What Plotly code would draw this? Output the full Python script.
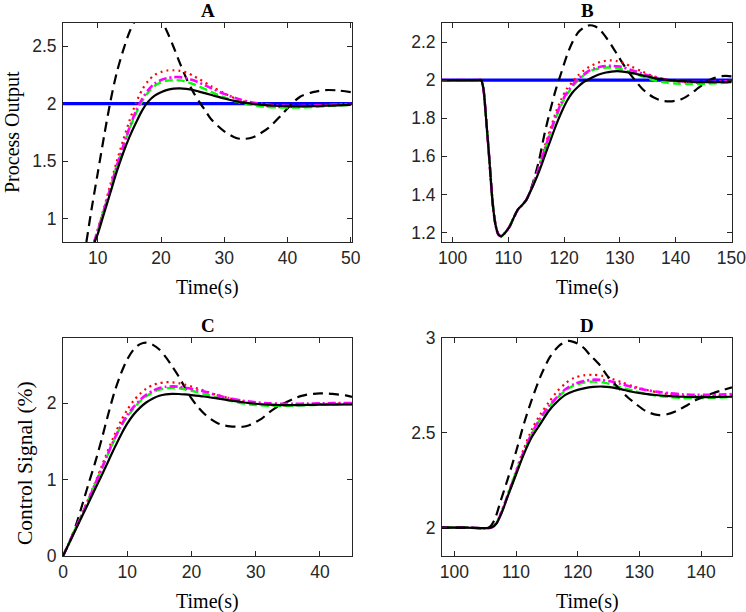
import plotly.graph_objects as go

# ---------------- Panel A : process output, set-point response ----------------
A_SETPOINT = 2.0
A_SPAN = [0, 50.2]
A_T_DASH = [8.2, 9, 10, 11, 12, 13, 14, 15, 16, 17, 18, 19, 20, 21, 22, 23, 24, 25, 26, 27, 28, 30, 32, 33, 34, 35, 37, 39, 40.7, 42, 44, 46, 48, 50]
A_Y_DASH = [0.8, 1.08, 1.4, 1.72, 2.02, 2.27, 2.46, 2.62, 2.73, 2.8, 2.82, 2.8, 2.73, 2.62, 2.49, 2.35, 2.22, 2.11, 2.02, 1.94, 1.86, 1.76, 1.7, 1.695, 1.7, 1.72, 1.79, 1.9, 2.0, 2.06, 2.1, 2.118, 2.115, 2.1]
A_T = [10, 11, 12, 13, 14, 15, 16, 17, 18, 19, 20, 21, 22, 23, 24, 25, 26, 28, 30, 32, 34, 36, 38, 40, 42, 44, 46, 48, 50]
A_T_SOLID = [9.5] + A_T
A_Y_SOLID = [0.8, 0.87, 1.05, 1.23, 1.41, 1.57, 1.71, 1.83, 1.94, 2.02, 2.07, 2.1, 2.12, 2.13, 2.132, 2.128, 2.12, 2.105, 2.075, 2.045, 2.02, 2.003, 1.99, 1.982, 1.978, 1.977, 1.978, 1.982, 1.986, 1.99]
A_T_RED = [9.4] + A_T
A_Y_RED = [0.8, 0.91, 1.1, 1.3, 1.5, 1.68, 1.85, 2.0, 2.12, 2.2, 2.25, 2.275, 2.288, 2.29, 2.285, 2.27, 2.245, 2.215, 2.15, 2.09, 2.04, 2.005, 1.983, 1.972, 1.97, 1.975, 1.98, 1.988, 1.994, 1.998]
A_T_MAG = [9.45] + A_T
A_Y_MAG = [0.8, 0.9, 1.08, 1.27, 1.46, 1.63, 1.79, 1.93, 2.04, 2.12, 2.175, 2.205, 2.222, 2.23, 2.23, 2.222, 2.205, 2.183, 2.133, 2.085, 2.045, 2.015, 1.997, 1.986, 1.981, 1.98, 1.983, 1.988, 1.993, 1.997]
A_T_GREEN = [9.45] + A_T
A_Y_GREEN = [0.8, 0.9, 1.08, 1.27, 1.45, 1.62, 1.78, 1.91, 2.02, 2.1, 2.155, 2.185, 2.2, 2.205, 2.202, 2.19, 2.172, 2.15, 2.1, 2.055, 2.017, 1.992, 1.976, 1.968, 1.966, 1.967, 1.972, 1.978, 1.985, 1.99]

# ---------------- Panel B : process output, disturbance response ----------------
B_SETPOINT = 2.0
B_SPAN = [95, 150.2]
B_T_DIP = [95, 100, 103, 104.6, 105.1, 105.5, 106, 106.6, 107.2, 107.7, 108.2, 108.7, 109.3, 110.2, 111, 111.7, 112.5, 113.2, 113.7]
B_Y_DIP = [2.0, 2.0, 2.0, 2.0, 2.0, 1.96, 1.8, 1.58, 1.35, 1.24, 1.19, 1.18, 1.195, 1.23, 1.28, 1.32, 1.345, 1.37, 1.4]
B_T_REC = [114.5, 115.5, 116.5, 117.5, 118.5, 119.5, 120.5, 121.5, 122.5, 123.5, 124.5, 125.5, 126.5, 127.5, 128.5, 129.5, 130.5, 132, 134, 136, 138, 140, 142, 144, 146, 148, 150]
B_Y_SOLID = [1.45, 1.52, 1.6, 1.68, 1.76, 1.83, 1.89, 1.935, 1.965, 1.99, 2.006, 2.02, 2.032, 2.04, 2.045, 2.047, 2.045, 2.038, 2.025, 2.012, 2.003, 1.997, 1.993, 1.99, 1.99, 1.99, 1.99]
B_Y_RED = [1.46, 1.55, 1.65, 1.74, 1.83, 1.9, 1.955, 1.99, 2.025, 2.05, 2.07, 2.085, 2.096, 2.102, 2.104, 2.1, 2.092, 2.072, 2.045, 2.02, 2.003, 1.993, 1.988, 1.987, 1.99, 1.993, 1.996]
B_Y_MAG = [1.455, 1.54, 1.635, 1.725, 1.81, 1.88, 1.935, 1.975, 2.005, 2.03, 2.05, 2.062, 2.07, 2.074, 2.075, 2.073, 2.068, 2.053, 2.035, 2.018, 2.005, 1.997, 1.992, 1.99, 1.99, 1.992, 1.995]
B_Y_GREEN = [1.455, 1.54, 1.63, 1.72, 1.8, 1.87, 1.925, 1.965, 1.998, 2.025, 2.045, 2.056, 2.062, 2.066, 2.066, 2.062, 2.055, 2.04, 2.02, 2.0, 1.988, 1.982, 1.98, 1.98, 1.982, 1.985, 1.988]
B_T_DASH_REC = [114.5, 115.5, 116.5, 117.5, 118.5, 119.5, 120.5, 121.5, 122.5, 123.5, 124.5, 125.5, 126.5, 127.5, 128.5, 129.5, 130.5, 131.5, 132.7, 134, 135, 136, 137, 138, 139, 140, 141, 142, 143, 144, 145, 146, 147, 148, 149, 150]
B_Y_DASH_REC = [1.47, 1.58, 1.72, 1.84, 1.95, 2.04, 2.13, 2.2, 2.25, 2.275, 2.288, 2.283, 2.262, 2.225, 2.183, 2.135, 2.088, 2.045, 2.0, 1.955, 1.93, 1.91, 1.897, 1.89, 1.888, 1.892, 1.9, 1.915, 1.935, 1.958, 1.98, 2.0, 2.012, 2.02, 2.022, 2.02]

# ---------------- Panel C : control signal, set-point response ----------------
C_T = [0, 1, 2, 3, 4, 5, 6, 7, 8, 9, 10, 11, 12, 13, 14, 15, 16, 17, 18, 19, 20, 22, 24, 26, 28, 30, 32, 34, 36, 38, 40, 42, 45]
C_Y_SOLID = [0, 0.175, 0.35, 0.525, 0.7, 0.875, 1.05, 1.23, 1.41, 1.58, 1.73, 1.85, 1.94, 2.01, 2.06, 2.095, 2.113, 2.12, 2.118, 2.112, 2.104, 2.085, 2.06, 2.035, 2.01, 1.99, 1.978, 1.972, 1.972, 1.975, 1.978, 1.98, 1.983]
C_Y_RED = [0, 0.18, 0.37, 0.56, 0.76, 0.96, 1.17, 1.38, 1.58, 1.76, 1.91, 2.03, 2.12, 2.19, 2.235, 2.26, 2.272, 2.27, 2.26, 2.24, 2.215, 2.16, 2.105, 2.06, 2.02, 1.99, 1.975, 1.97, 1.975, 1.98, 1.985, 1.99, 1.995]
C_Y_MAG = [0, 0.18, 0.365, 0.55, 0.74, 0.94, 1.14, 1.34, 1.53, 1.7, 1.84, 1.95, 2.04, 2.11, 2.16, 2.195, 2.212, 2.218, 2.213, 2.2, 2.185, 2.15, 2.1, 2.06, 2.03, 2.01, 1.997, 1.99, 1.99, 1.992, 1.995, 1.998, 2.0]
C_Y_GREEN = [0, 0.18, 0.365, 0.55, 0.74, 0.94, 1.13, 1.33, 1.52, 1.69, 1.82, 1.93, 2.02, 2.09, 2.14, 2.175, 2.193, 2.198, 2.193, 2.18, 2.16, 2.12, 2.07, 2.03, 1.995, 1.975, 1.965, 1.963, 1.967, 1.972, 1.978, 1.983, 1.988]
C_T_DASH = list(range(0, 46))
C_Y_DASH = [0, 0.18, 0.4, 0.67, 0.95, 1.22, 1.52, 1.84, 2.14, 2.38, 2.57, 2.7, 2.77, 2.79, 2.76, 2.7, 2.6, 2.48, 2.35, 2.2, 2.06, 1.95, 1.86, 1.79, 1.74, 1.71, 1.695, 1.69, 1.69, 1.71, 1.75, 1.8, 1.87, 1.93, 1.98, 2.02, 2.06, 2.09, 2.11, 2.12, 2.125, 2.125, 2.12, 2.11, 2.1, 2.08]

# ---------------- Panel D : control signal, disturbance response ----------------
D_T = [95, 102, 106, 106.8, 107.7, 108.6, 110, 111.3, 112.6, 114, 115.3, 116.7, 118, 119.4, 121, 122.5, 124, 125.5, 127, 129, 131, 133, 135, 137, 139, 141, 143, 145]
D_Y_SOLID = [2.0, 2.0, 2.0, 2.02, 2.08, 2.16, 2.28, 2.39, 2.48, 2.55, 2.615, 2.665, 2.7, 2.72, 2.734, 2.742, 2.744, 2.74, 2.73, 2.715, 2.705, 2.698, 2.693, 2.69, 2.688, 2.688, 2.689, 2.69]
D_Y_RED = [2.0, 2.0, 2.0, 2.025, 2.09, 2.17, 2.3, 2.42, 2.52, 2.6, 2.66, 2.72, 2.76, 2.79, 2.803, 2.806, 2.8, 2.785, 2.768, 2.745, 2.727, 2.713, 2.703, 2.697, 2.694, 2.695, 2.697, 2.7]
D_Y_MAG = [2.0, 2.0, 2.0, 2.022, 2.085, 2.165, 2.29, 2.405, 2.5, 2.58, 2.64, 2.69, 2.73, 2.757, 2.773, 2.78, 2.778, 2.77, 2.757, 2.74, 2.726, 2.716, 2.708, 2.703, 2.7, 2.7, 2.702, 2.704]
D_Y_GREEN = [2.0, 2.0, 2.0, 2.022, 2.085, 2.165, 2.29, 2.4, 2.495, 2.575, 2.635, 2.685, 2.722, 2.75, 2.765, 2.77, 2.766, 2.755, 2.74, 2.722, 2.706, 2.695, 2.688, 2.684, 2.683, 2.684, 2.686, 2.688]
D_T_DASH = [95, 102, 105.6, 106.5, 107.5, 108.6, 110, 111.3, 112.5, 114, 115.5, 117, 118.5, 120, 121, 122, 123.5, 124.8, 126.5, 128, 129.5, 131, 132.9, 134.5, 136, 137.8, 139, 140.4, 142, 143.5, 145]
D_Y_DASH = [2.0, 2.0, 2.0, 2.04, 2.14, 2.25, 2.4, 2.55, 2.67, 2.8, 2.9, 2.96, 2.985, 2.97, 2.947, 2.91, 2.86, 2.8, 2.74, 2.69, 2.65, 2.615, 2.594, 2.598, 2.615, 2.647, 2.67, 2.69, 2.71, 2.725, 2.74]

# ---------------- axes settings ----------------
PANEL_TITLES = ["A", "B", "C", "D"]
X_RANGES = [[4.5, 50.2], [98.1, 150.1], [0, 45], [98, 145]]
Y_RANGES = [[0.8, 2.7], [1.15, 2.3], [0, 2.85], [1.85, 3.0]]
X_TICKS = [[10, 20, 30, 40, 50], [100, 110, 120, 130, 140, 150], [0, 10, 20, 30, 40], [100, 110, 120, 130, 140]]
Y_TICKS = [[1, 1.5, 2, 2.5], [1.2, 1.4, 1.6, 1.8, 2, 2.2], [0, 1, 2], [2, 2.5, 3]]
X_LABEL = "Time(s)"
Y_LABELS = ["Process Output", None, "Control Signal (%)", None]

W, H = 746, 612
BOX_X = [(63, 352), (442, 732), (63, 352), (442, 732)]
BOX_Y = [(23, 242), (23, 242), (338, 556), (338, 556)]
YLAB_POS = {0: (12, 132, 20), 2: (25, 463, 21.5)}   # x centre px, y centre px, font size

STY = {
    "sp": dict(color="#0000FF", width=3.2),
    "dash": dict(color="#000000", width=2.2, dash="10px,6px"),
    "red": dict(color="#FF0000", width=2.2, dash="2px,4px"),
    "green": dict(color="#00FF00", width=2.4, dash="8px,4px"),
    "mag": dict(color="#FF00FF", width=2.6, dash="8px,3px,2px,3px"),
    "solid": dict(color="#000000", width=2.2),
}

fig = go.Figure()


def add(t, y, sty, k):
    sfx = "" if k == 0 else str(k + 1)
    fig.add_trace(go.Scatter(x=t, y=y, mode="lines", line=dict(shape="spline", smoothing=0.8, **STY[sty]),
                             xaxis="x" + sfx, yaxis="y" + sfx, showlegend=False, hoverinfo="skip"))


# A
add(A_SPAN, [A_SETPOINT, A_SETPOINT], "sp", 0)
add(A_T_DASH, A_Y_DASH, "dash", 0)
add(A_T_RED, A_Y_RED, "red", 0)
add(A_T_GREEN, A_Y_GREEN, "green", 0)
add(A_T_MAG, A_Y_MAG, "mag", 0)
add(A_T_SOLID, A_Y_SOLID, "solid", 0)
# B
add(B_SPAN, [B_SETPOINT, B_SETPOINT], "sp", 1)
add(B_T_DIP + B_T_DASH_REC, B_Y_DIP + B_Y_DASH_REC, "dash", 1)
add(B_T_DIP + B_T_REC, B_Y_DIP + B_Y_RED, "red", 1)
add(B_T_DIP + B_T_REC, B_Y_DIP + B_Y_GREEN, "green", 1)
add(B_T_DIP + B_T_REC, B_Y_DIP + B_Y_MAG, "mag", 1)
add(B_T_DIP + B_T_REC, B_Y_DIP + B_Y_SOLID, "solid", 1)
# C
add(C_T_DASH, C_Y_DASH, "dash", 2)
add(C_T, C_Y_RED, "red", 2)
add(C_T, C_Y_GREEN, "green", 2)
add(C_T, C_Y_MAG, "mag", 2)
add(C_T, C_Y_SOLID, "solid", 2)
# D
add(D_T, D_Y_RED, "red", 3)
add(D_T, D_Y_GREEN, "green", 3)
add(D_T, D_Y_MAG, "mag", 3)
add(D_T, D_Y_SOLID, "solid", 3)
add(D_T_DASH, D_Y_DASH, "dash", 3)

AX = "#262626"
TICKFONT = dict(family="Liberation Sans, Arial, sans-serif", size=17.5, color=AX)
SERIF = "Liberation Serif, Times New Roman, serif"

layout = dict(width=W, height=H, margin=dict(l=0, r=0, t=0, b=0, pad=0, autoexpand=False),
              paper_bgcolor="white", plot_bgcolor="white", showlegend=False)
annotations = []
for k in range(4):
    sfx = "" if k == 0 else str(k + 1)
    x0, x1 = BOX_X[k]
    y0, y1 = BOX_Y[k]
    common = dict(showline=True, linecolor=AX, linewidth=1, mirror="ticks", ticks="inside", ticklen=5,
                  tickcolor=AX, tickwidth=1, showgrid=False, zeroline=False, tickfont=TICKFONT,
                  automargin=False, ticklabeloverflow="allow")
    layout["xaxis" + sfx] = dict(domain=[x0 / W, x1 / W], range=X_RANGES[k], tickvals=X_TICKS[k],
                                 anchor="y" + sfx, **common)
    layout["yaxis" + sfx] = dict(domain=[1 - y1 / H, 1 - y0 / H], range=Y_RANGES[k], tickvals=Y_TICKS[k],
                                 anchor="x" + sfx, ticklabelstandoff=2, **common)
    cx = (x0 + x1) / 2 / W
    annotations.append(dict(text="<b>%s</b>" % PANEL_TITLES[k], x=cx, y=1 - (y0 - 13) / H, xref="paper",
                            yref="paper", showarrow=False, xanchor="center", yanchor="middle",
                            font=dict(family=SERIF, size=19, color="#000")))
    annotations.append(dict(text=X_LABEL, x=cx, y=1 - (y1 + 45) / H, xref="paper", yref="paper",
                            showarrow=False, xanchor="center", yanchor="middle",
                            font=dict(family=SERIF, size=20, color="#000")))
    if Y_LABELS[k]:
        lx, ly, ls = YLAB_POS[k]
        annotations.append(dict(text=Y_LABELS[k], x=lx / W, y=1 - ly / H, xref="paper",
                                yref="paper", showarrow=False, textangle=-90, xanchor="center",
                                yanchor="middle", font=dict(family=SERIF, size=ls, color="#000")))
layout["annotations"] = annotations
fig.update_layout(**layout)
fig.write_html("out.html", config={"displayModeBar": False},
               post_script="document.body.style.margin='0px';document.body.style.overflow='hidden';")
